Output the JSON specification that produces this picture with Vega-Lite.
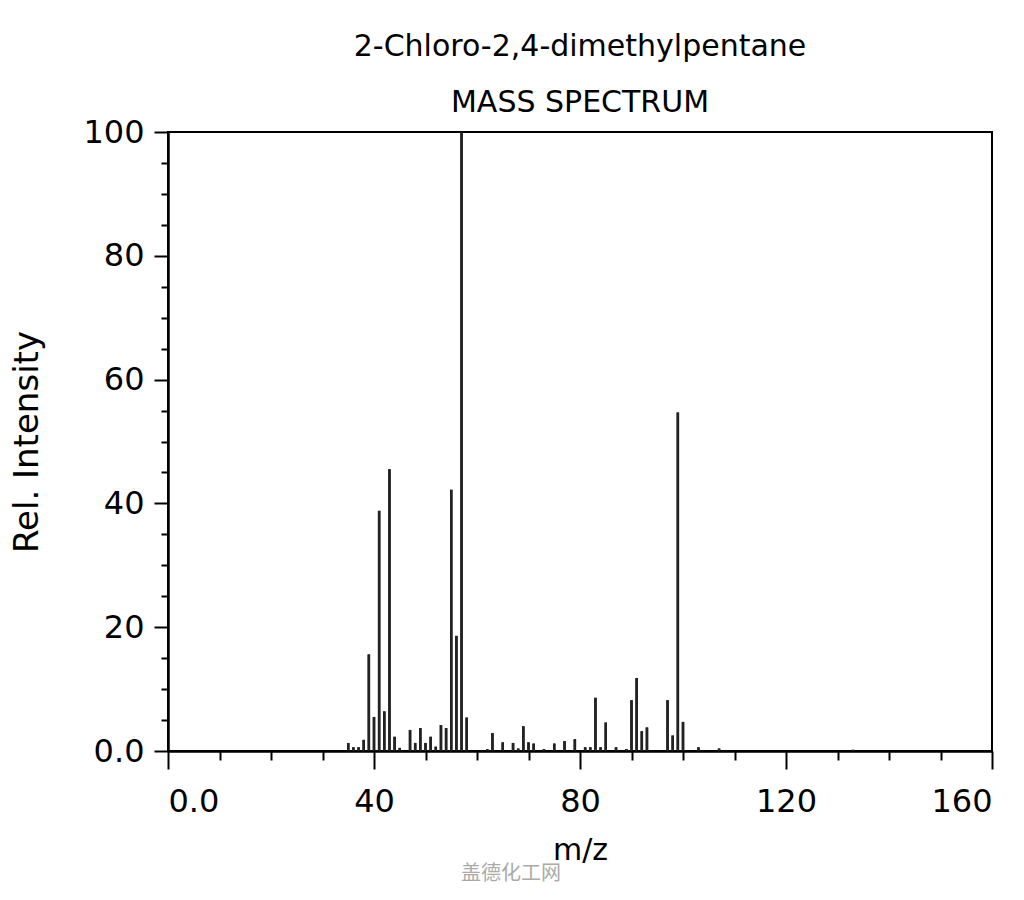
{
  "$schema": "https://vega.github.io/schema/vega-lite/v6.json",
  "width": 824,
  "height": 619,
  "autosize": "none",
  "padding": {"left": 168, "top": 132, "right": 32, "bottom": 149},
  "background": "white",
  "title": {
    "text": ["2-Chloro-2,4-dimethylpentane", "MASS SPECTRUM"],
    "font": "DejaVu Sans",
    "fontSize": 30,
    "fontWeight": "normal",
    "color": "black",
    "anchor": "middle",
    "lineHeight": 56,
    "offset": -2
  },
  "config": {
    "view": {"stroke": "black", "strokeWidth": 2},
    "axis": {
      "grid": false,
      "domainColor": "black",
      "domainWidth": 2,
      "tickColor": "black",
      "tickWidth": 2,
      "labelFont": "DejaVu Sans",
      "labelFontSize": 32,
      "labelColor": "black",
      "titleFont": "DejaVu Sans",
      "titleFontSize": 30,
      "titleFontWeight": "normal",
      "titleColor": "black"
    }
  },
  "data": {
    "values": [
      {"mz": 35, "intensity": 1.3}, {"mz": 36, "intensity": 0.6}, {"mz": 37, "intensity": 0.6},
      {"mz": 38, "intensity": 1.8}, {"mz": 39, "intensity": 15.6}, {"mz": 40, "intensity": 5.5},
      {"mz": 41, "intensity": 38.8}, {"mz": 42, "intensity": 6.4}, {"mz": 43, "intensity": 45.5},
      {"mz": 44, "intensity": 2.3}, {"mz": 45, "intensity": 0.5}, {"mz": 47, "intensity": 3.4},
      {"mz": 48, "intensity": 1.3}, {"mz": 49, "intensity": 3.7}, {"mz": 50, "intensity": 1.3},
      {"mz": 51, "intensity": 2.3}, {"mz": 52, "intensity": 0.7}, {"mz": 53, "intensity": 4.2},
      {"mz": 54, "intensity": 3.7}, {"mz": 55, "intensity": 42.2}, {"mz": 56, "intensity": 18.6},
      {"mz": 57, "intensity": 100}, {"mz": 58, "intensity": 5.4}, {"mz": 62, "intensity": 0.3},
      {"mz": 63, "intensity": 2.9}, {"mz": 65, "intensity": 1.4}, {"mz": 67, "intensity": 1.3},
      {"mz": 68, "intensity": 0.4}, {"mz": 69, "intensity": 4.0}, {"mz": 70, "intensity": 1.4},
      {"mz": 71, "intensity": 1.2}, {"mz": 73, "intensity": 0.3}, {"mz": 75, "intensity": 1.2},
      {"mz": 77, "intensity": 1.6}, {"mz": 79, "intensity": 1.9}, {"mz": 81, "intensity": 0.6},
      {"mz": 82, "intensity": 0.6}, {"mz": 83, "intensity": 8.6}, {"mz": 84, "intensity": 0.6},
      {"mz": 85, "intensity": 4.6}, {"mz": 87, "intensity": 0.6}, {"mz": 89, "intensity": 0.3},
      {"mz": 90, "intensity": 8.2}, {"mz": 91, "intensity": 11.8}, {"mz": 92, "intensity": 3.2},
      {"mz": 93, "intensity": 3.8}, {"mz": 97, "intensity": 8.2}, {"mz": 98, "intensity": 2.5},
      {"mz": 99, "intensity": 54.7}, {"mz": 100, "intensity": 4.7}, {"mz": 103, "intensity": 0.6},
      {"mz": 107, "intensity": 0.4}, {"mz": 133, "intensity": 0.2}
    ]
  },
  "resolve": {"axis": {"x": "independent", "y": "independent"}},
  "layer": [
    {
      "mark": {"type": "rule", "color": "#222222", "strokeWidth": 2.5},
      "encoding": {
        "x": {
          "field": "mz", "type": "quantitative",
          "scale": {"domain": [0, 160], "nice": false, "zero": false},
          "axis": {"orient": "bottom", "values": [10, 20, 30, 50, 60, 70, 90, 100, 110, 130, 140, 150], "labels": false, "tickSize": 9, "title": null}
        },
        "y": {
          "field": "intensity", "type": "quantitative",
          "scale": {"domain": [0, 100], "nice": false},
          "axis": {"orient": "left", "values": [5, 10, 15, 25, 30, 35, 45, 50, 55, 65, 70, 75, 85, 90, 95], "labels": false, "tickSize": 7, "title": null}
        },
        "y2": {"datum": 0}
      }
    },
    {
      "mark": {"type": "rule", "color": "#222222", "strokeWidth": 2.5},
      "encoding": {
        "x": {
          "field": "mz", "type": "quantitative",
          "axis": {"orient": "bottom", "values": [0, 40, 80, 120, 160], "tickSize": 18, "labelPadding": 17,
                   "labelExpr": "datum.value == 0 ? '0.0' : datum.label", "title": "m/z", "titlePadding": 18}
        },
        "y": {
          "field": "intensity", "type": "quantitative",
          "axis": {"orient": "left", "values": [0, 20, 40, 60, 80, 100], "tickSize": 14, "labelPadding": 10,
                   "labelExpr": "datum.value == 0 ? '0.0' : datum.label", "title": "Rel. Intensity",
                   "titleFontSize": 34, "titlePadding": 38}
        },
        "y2": {"datum": 0}
      }
    },
    {
      "data": {"values": [{"label": "盖德化工网"}]},
      "mark": {"type": "text", "font": "Noto Sans CJK SC", "fontSize": 20, "color": "#aaaaaa", "dy": 123},
      "encoding": {
        "text": {"field": "label"},
        "x": {"datum": 66.6, "type": "quantitative", "axis": null},
        "y": {"datum": 0, "type": "quantitative", "axis": null}
      }
    }
  ]
}
